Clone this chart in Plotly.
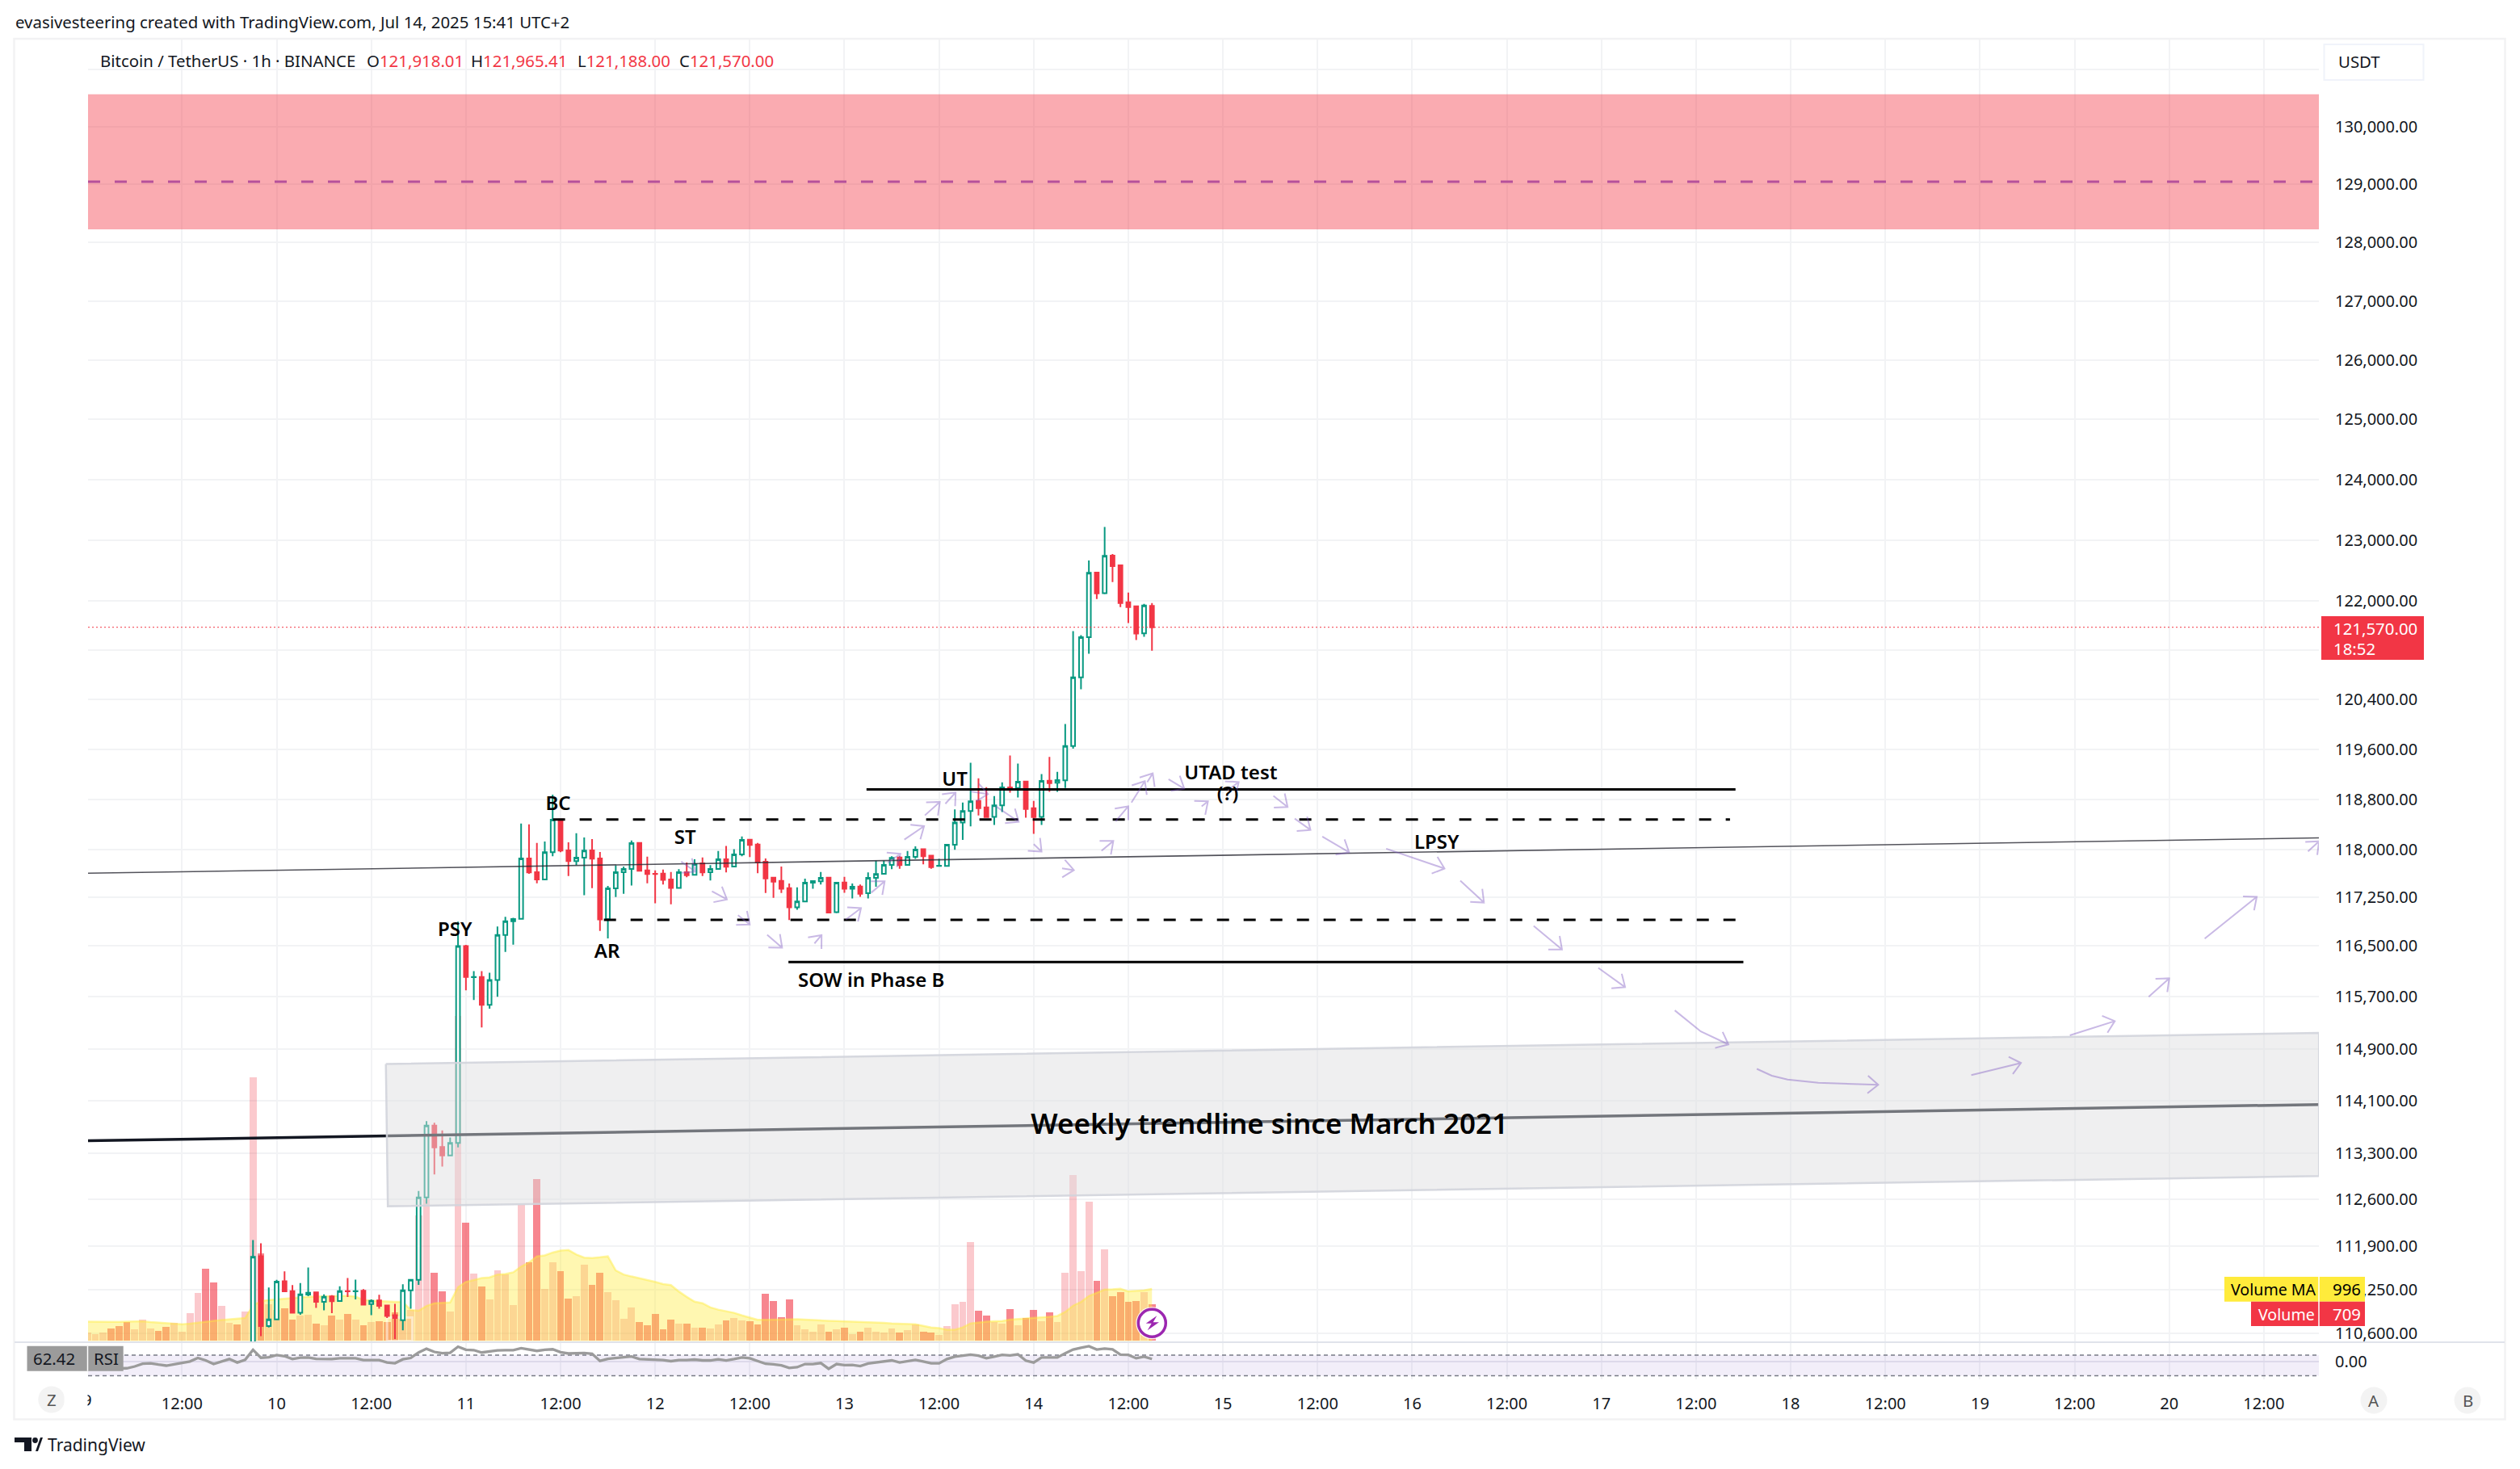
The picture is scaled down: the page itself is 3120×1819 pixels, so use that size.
import numpy as np
import pandas as pd
import plotly.graph_objects as go

# -- window / pane geometry (pixels of the 3120x1819 screenshot)
W, H = 3120, 1819
L, R, T, B = 109, 2871, 47, 1708
PANE_SPLIT = 1662
PX_PER_HOUR = 9.763
PX_PER_LOG = 9245

FONT = "Noto Sans"
INK = "#131722"
RED = "#F23645"
GREEN = "#089981"
GRID = "#F2F3F5"

START = pd.Timestamp("2025-07-09 00:00")
X_RANGE = (0.08, 282.98)
PRICE_RANGE = (110471, 131552)

# -- candles, one per hour from Jul 9 21:00 to Jul 14 15:00
candle_open = [110300, 111751, 110709, 110809, 111378, 111230, 110909, 111178, 111210, 111070, 111150, 111082, 111230, 111226, 111234, 111037, 111090, 111017, 110873, 110797, 111242, 111398, 112634, 113724, 113396, 113270, 113460,
               116488, 116005, 116009, 115576, 115960, 116662, 116876, 116916, 117864, 117647, 117533, 117962, 118480, 117992, 117822, 117877, 117992, 117864, 116908, 117392, 117647, 117698, 118111, 117677, 117622, 117626, 117533, 117401, 117647, 117605, 117788, 117647, 117698, 117851, 117737, 117928, 118162, 118085, 117813, 117562, 117511, 117397, 117095, 117188, 117482, 117503, 117562, 117018, 117486, 117388, 117422, 117316, 117558, 117622, 117762, 117881, 117762, 117890, 118009, 117907, 117745, 117745, 118081,
               118432, 118616, 118774, 118672, 118522, 118706, 118990, 118980, 119085, 118659, 118522, 119098, 119064, 119102, 119652, 120756, 121410, 122465, 122127, 122741, 122583, 121978, 121913, 121472, 121918.01]
candle_high = [111992, 111944, 111282, 111398, 111523, 111318, 111350, 111583, 111222, 111182, 111170, 111302, 111426, 111402, 111258, 111106, 111174, 111017, 111041, 111330, 111398, 112730, 113790, 113767, 113650, 113540, 116872,
               116507, 116099, 116099, 116074, 116796, 116946, 116931, 118417, 118404, 118111, 118132, 118876, 118480, 118119, 118264, 118196, 118170, 117966, 117431, 117754, 117737, 118149, 118111, 117894, 117677, 117690, 117652, 117694, 117800, 117851, 117881, 117758, 117983, 118060, 118009, 118213, 118162, 118111, 117864, 117575, 117737, 117469, 117409, 117545, 117516, 117652, 117562, 117490, 117575, 117469, 117452, 117643, 117830, 117830, 117898, 117898, 117983, 118055, 118009, 117907, 117856, 118094, 118642,
               118749, 119383, 119137, 118994, 118851, 119072, 119500, 119370, 119085, 118774, 119202, 119478, 119240, 120006, 121506, 121441, 122662, 122465, 123215, 122768, 122583, 122136, 121913, 121952, 121965.41]
candle_low = [109900, 110560, 110688, 110801, 111222, 110909, 110877, 111154, 110981, 110945, 110901, 111082, 111142, 111106, 111017, 110873, 110969, 110829, 110520, 110648, 110969, 111322, 112540, 112980, 113100, 113262, 113390,
              115800, 115651, 115228, 115516, 115701, 116398, 116512, 116916, 117622, 117473, 117533, 117898, 117962, 117588, 117758, 117286, 117397, 116725, 116610, 117256, 117307, 117439, 117669, 117473, 117159, 117452, 117142, 117401, 117567, 117605, 117588, 117516, 117686, 117643, 117737, 117898, 117885, 117630, 117320, 117244, 117320, 116895, 117057, 117188, 117388, 117452, 117014, 117005, 117324, 117235, 117261, 117235, 117418, 117622, 117694, 117703, 117762, 117856, 117771, 117703, 117745, 117745, 118000,
              118158, 118372, 118543, 118518, 118393, 118599, 118907, 118830, 118509, 118252, 118393, 118920, 118920, 118980, 119609, 120565, 121139, 122031, 122110, 122307, 121900, 121637, 121362, 121415, 121188.00]
candle_close = [111743, 110709, 110809, 111370, 111226, 110909, 111182, 111206, 111070, 111146, 111078, 111230, 111226, 111230, 111029, 111086, 111009, 110861, 110829, 111242, 111398, 112634, 113724, 113392, 113270, 113460, 116488,
                116009, 116009, 115576, 115960, 116662, 116876, 116911, 117864, 117643, 117533, 117962, 118476, 117987, 117822, 117877, 117987, 117860, 116904, 117392, 117647, 117698, 118106, 117669, 117618, 117618, 117528, 117401, 117647, 117601, 117775, 117643, 117698, 117851, 117732, 117928, 118157, 118077, 117800, 117550, 117499, 117388, 117095, 117188, 117482, 117507, 117558, 117014, 117482, 117388, 117418, 117307, 117558, 117618, 117762, 117873, 117758, 117890, 118004, 117898, 117728, 117749, 118081, 118434,
                118616, 118770, 118659, 118518, 118706, 118990, 118980, 119081, 118646, 118518, 119094, 119059, 119107, 119652, 120756, 121410, 122461, 122123, 122737, 122570, 121965, 121900, 121467, 121926, 121570.00]

# -- volume pane, one per hour from Jul 9 00:00
volume = [155, 129, 155, 232, 278, 355, 216, 402, 232, 185, 263, 340, 170, 525, 911, 1390, 1112, 664, 340, 309, 556, 5052, 1669, 695, 587, 618, 402, 479, 494, 324, 294, 479, 402, 510, 402, 294, 355, 371, 355, 541, 402, 587, 2410, 2719, 1298, 942, 556, 6220, 2261, 1283, 1039, 794, 1344, 1271, 684, 2603, 1503, 3092, 990, 1503, 1332, 807, 849, 1454, 1069, 1301, 929, 776, 422, 635, 354, 293, 513, 220, 403, 324, 324, 250, 250, 232, 312, 391, 440, 391, 373, 312, 898, 758, 452, 788, 294, 216, 170, 309, 170, 216, 247, 124, 170, 247, 170, 154, 232, 154, 201, 309, 170, 154, 108, 278, 695, 742, 1900, 572, 479, 355, 324, 603, 294, 433, 587, 371, 541, 355, 1298, 3183, 1329, 2673, 1143, 1761, 850, 927, 742, 757, 927, 709]
volume_down = [0, 0, 0, 1, 1, 1, 0, 0, 0, 1, 1, 0, 0, 0, 0, 1, 1, 0, 0, 1, 0, 0, 1, 0, 0, 1, 1, 0, 0, 1, 0, 1, 0, 1, 0, 1, 0, 1, 1, 1, 0, 0, 0, 0, 1, 1, 0, 0, 1, 0, 1, 0, 0, 0, 0, 0, 1, 1, 0, 0, 1, 1, 0, 0, 1, 1, 0, 0, 0, 0, 1, 1, 1, 1, 1, 0, 1, 0, 1, 0, 0, 1, 0, 0, 1, 1, 1, 1, 1, 1, 0, 0, 0, 0, 1, 0, 1, 0, 1, 0, 0, 0, 0, 1, 0, 0, 1, 1, 0, 0, 0, 0, 0, 1, 1, 0, 0, 1, 0, 1, 1, 0, 1, 0, 0, 0, 0, 0, 1, 0, 1, 1, 1, 1, 0, 1]
volume_ma = [371, 366, 366, 366, 366, 371, 376, 376, 360, 350, 345, 335, 319, 330, 345, 360, 386, 402, 412, 422, 438, 680, 762, 783, 798, 809, 824, 834, 845, 850, 855, 860, 865, 865, 850, 783, 772, 762, 752, 747, 747, 592, 577, 669, 721, 731, 736, 1030, 1130, 1167, 1204, 1216, 1271, 1283, 1314, 1424, 1503, 1619, 1637, 1693, 1729, 1741, 1656, 1595, 1589, 1601, 1619, 1350, 1271, 1234, 1204, 1167, 1130, 1088, 1069, 947, 843, 752, 721, 642, 599, 568, 538, 489, 446, 403, 403, 409, 409, 415, 417, 407, 397, 397, 386, 381, 376, 371, 371, 366, 355, 345, 335, 330, 324, 319, 288, 258, 247, 216, 216, 258, 335, 355, 371, 376, 381, 407, 417, 433, 443, 453, 464, 479, 556, 675, 747, 860, 917, 984, 989, 999, 948, 953, 968, 996]

# -- RSI pane, same hours
rsi = [43, 43, 43, 44, 44, 44.4, 47.9, 53.1, 54.1, 51.5, 49.5, 52.1, 54.6, 57.7, 64.4, 59.7, 52.6, 57.2, 62.3, 55.6, 60.8, 80.3, 64.9, 65.9, 70, 67.9, 62.3, 64.9, 65.4, 62.8, 62.3, 62.3, 63.8, 63.8, 63.8, 60.3, 60.8, 60.3, 55.6, 54.1, 61.8, 64.4, 75.1, 82.3, 76.2, 73.6, 74.6, 86.4, 80.3, 79.7, 75.1, 77.2, 79.2, 79.7, 79.7, 83.3, 80.3, 78.2, 80.3, 81.3, 75.6, 73.1, 73.6, 74.1, 72.6, 58.7, 62.8, 64.4, 64.9, 67.4, 62.3, 61.8, 61.8, 60.3, 58.2, 60.3, 60.3, 61.3, 59.7, 59.7, 61.8, 59.7, 62.3, 65.4, 63.8, 58.2, 53.1, 52.1, 50, 44.9, 46.4, 52.6, 52.6, 54.6, 43.3, 52.6, 50.5, 51, 48.5, 53.6, 55.6, 58.2, 59.7, 55.6, 58.2, 60.8, 57.7, 54.1, 54.1, 62.3, 66.9, 69, 71, 69, 63.8, 66.9, 70.5, 69.5, 71.5, 59.2, 55.6, 65.4, 65.4, 65.4, 73.6, 80.8, 84.4, 87.4, 80.8, 82.8, 81.3, 71, 70.5, 63.8, 66.9, 62.42]
RSI_UPPER, RSI_LOWER = 70, 30
RSI_RANGE = (22.8, 93.5)
rsi_tick = 58

# -- axis ticks
price_ticks = [131000, 130000, 129000, 128000, 127000, 126000, 125000, 124000, 123000, 122000, 121200, 120400, 119600, 118800, 118000, 117250, 116500, 115700, 114900, 114100, 113300, 112600, 111900, 111250, 110600]
hidden_price_ticks = [131000, 121200]
day_labels = list(range(10, 21))

# -- drawings on the chart: hours since START, price
zone_top, zone_bottom, zone_mid = 130564, 128222, 129043
last_price = 121570
trend_thin = ([0.08, 283], [117631, 118189])
trend_weekly = ([0.08, 283], [113491, 114044])
gray_box = ([37.85, 283, 283, 38.1, 37.85], [114663, 115143, 112957, 112501, 114663])
solid_levels = [(98.8, 209, 118958), (88.9, 210, 116240)]
dashed_levels = [(59.04, 208.3, 118482), (65.5, 209, 116900)]

label_text = ["PSY", "BC", "ST", "AR", "UT", "UTAD test", "(?)", "LPSY", "SOW in Phase B"]
label_hour = [46.6, 59.7, 75.8, 65.9, 110, 145, 144.6, 171.1, 99.4]
label_price = [116719, 118706, 118168, 116379, 119091, 119194, 118860, 118091, 115925]
weekly_text = "Weekly trendline since March 2021"
weekly_hour, weekly_price = 149.9, 113700

# each arrow is a list of (hour, price), the head goes on the last point
arrows = [
    [(75.3, 117814), (77.1, 117657)], [(79.2, 117347), (81.1, 117219)], [(82.5, 116972), (84.0, 116827)],
    [(86.2, 116665), (88.1, 116464)], [(92.2, 116530), (93.1, 116660)], [(96.2, 116905), (98.1, 117083)],
    [(99.4, 117325), (101.1, 117503)], [(101.5, 117797), (103.1, 117937)], [(103.6, 118163), (106.1, 118375)],
    [(106.2, 118546), (108.1, 118760)], [(108.8, 118730), (110.1, 118910)], [(112, 118925), (114.2, 118885)],
    [(115.2, 118690), (118.1, 118445)], [(120, 118090), (121, 117972)], [(123.6, 117708), (125.1, 117680)],
    [(128.6, 117985), (130.1, 118140)], [(130.4, 118452), (132, 118690)], [(132.4, 118750), (134.1, 119090)],
    [(134.4, 119075), (135.1, 119215)], [(137.1, 119120), (139.1, 118970)], [(141.3, 118690), (142.1, 118770)],
    [(144.6, 118945), (146, 119075)], [(150.4, 118855), (152.2, 118680)], [(153.1, 118495), (155.1, 118315)],
    [(156.6, 118210), (160, 117960)], [(164.7, 118018), (172.1, 117705)], [(174.1, 117515), (177.1, 117170)],
    [(183.4, 116805), (187, 116435)], [(191.6, 116150), (195, 115850)],
    [(201.3, 115490), (204.6, 115165), (208.1, 114965)],
    [(211.7, 114590), (213.6, 114485), (215.6, 114425), (219.5, 114375), (227.1, 114345)],
    [(238.9, 114495), (245.2, 114680)], [(251.4, 115105), (257.1, 115325)], [(261.4, 115700), (264, 115985)],
    [(268.5, 116605), (275.1, 117260)], [(281.6, 117975), (283, 118135)],
]


def hour_to_time(h):
    return START + pd.to_timedelta(h, unit="h")


def arrow_xy(path):
    # shaft plus two barbs, barbs worked out in screen units so they look the same everywhere
    xs = [p[0] for p in path]
    ys = [p[1] for p in path]
    h0, p0 = path[-2]
    h1, p1 = path[-1]
    dx = (h1 - h0) * PX_PER_HOUR
    dy = np.log(p1 / p0) * PX_PER_LOG
    ang = np.arctan2(dy, dx)
    out_x, out_y = list(xs), list(ys)
    for side in (0.7, -0.7):
        bx = h1 - 17 * np.cos(ang + side) / PX_PER_HOUR
        by = p1 * np.exp(-17 * np.sin(ang + side) / PX_PER_LOG)
        out_x += [bx, h1]
        out_y += [by, p1]
    return out_x + [None], out_y + [None]


def px(x):
    return (x - L) / (R - L)


def py(y):
    return 1 - (y - T) / (B - T)


def label(x, y, text, size=20.4, color=INK, anchor="left", **kw):
    return dict(x=px(x), y=py(y), xref="paper", yref="paper", text=text, showarrow=False, xanchor=anchor, yanchor="middle",
                font=dict(family=FONT, size=size, color=color), borderpad=0, **kw)


def box(x0, y0, x1, y1, fill, line="rgba(0,0,0,0)", width=0):
    return dict(type="rect", xref="paper", yref="paper", x0=px(x0), y0=py(y0), x1=px(x1), y1=py(y1), fillcolor=fill, line=dict(color=line, width=width), layer="above")


def rule(x0, y0, x1, y1, color, width=2):
    return dict(type="line", xref="paper", yref="paper", x0=px(x0), y0=py(y0), x1=px(x1), y1=py(y1), line=dict(color=color, width=width), layer="above")


def circle(cx, cy, r, fill, line="rgba(0,0,0,0)", width=0):
    return dict(type="circle", xref="paper", yref="paper", x0=px(cx - r), y0=py(cy - r), x1=px(cx + r), y1=py(cy + r), fillcolor=fill, line=dict(color=line, width=width), layer="above")


def poly(points, fill):
    d = "M " + " L ".join(f"{px(x):.5f},{py(y):.5f}" for x, y in points) + " Z"
    return dict(type="path", xref="paper", yref="paper", path=d, fillcolor=fill, line=dict(width=0), layer="above")


bar_times = pd.date_range(START, periods=len(volume), freq="h")
candle_times = bar_times[21:21 + len(candle_open)]
x_span = [hour_to_time(0.08), hour_to_time(283)]

fig = go.Figure()

# -- volume sits on the base subplot so that price draws over it
bar_colors = ["rgba(242,54,69,0.6)" if d else "rgba(242,54,69,0.27)" for d in volume_down]
fig.add_trace(go.Bar(x=bar_times, y=volume, width=3600000 * 0.9, marker=dict(color=bar_colors, line=dict(width=0)), yaxis="y"))
fig.add_trace(go.Scatter(x=bar_times, y=volume_ma, mode="lines", fill="tozeroy", fillcolor="rgba(255,235,59,0.4)",
                         line=dict(color="rgba(255,235,59,0.45)", width=2.5), yaxis="y"))
fig.add_trace(go.Scatter(x=[hour_to_time(h) for h in (38.0, 41.2, 41.2, 38.0, 38.0)], y=[0, 0, 448, 448, 0], mode="lines", fill="toself",
                         fillcolor="rgba(249,150,100,0.12)", line=dict(color="rgba(255,255,255,0.5)", width=3), yaxis="y"))

# -- price
fig.add_trace(go.Candlestick(x=candle_times, open=candle_open, high=candle_high, low=candle_low, close=candle_close, yaxis="y2",
                             whiskerwidth=0,
                             increasing=dict(line=dict(color=GREEN, width=2), fillcolor="#FFFFFF"),
                             decreasing=dict(line=dict(color=RED, width=2), fillcolor=RED)))

# -- red zone on top of the chart
fig.add_trace(go.Scatter(x=[x_span[0], x_span[1], x_span[1], x_span[0], x_span[0]], y=[zone_top, zone_top, zone_bottom, zone_bottom, zone_top],
                         mode="lines", fill="toself", fillcolor="rgba(242,54,69,0.42)", line=dict(width=0), yaxis="y2"))
fig.add_trace(go.Scatter(x=x_span, y=[zone_mid, zone_mid], mode="lines", line=dict(color="#B5519B", width=3, dash="15px,18px"), yaxis="y2"))
fig.add_trace(go.Scatter(x=x_span, y=[last_price, last_price], mode="lines", line=dict(color=RED, width=1, dash="2px,3px"), yaxis="y2"))

# -- weekly trendline then the gray box that washes it out
fig.add_trace(go.Scatter(x=[hour_to_time(h) for h in trend_weekly[0]], y=trend_weekly[1], mode="lines", line=dict(color="#131722", width=3.5), yaxis="y2"))
fig.add_trace(go.Scatter(x=[hour_to_time(h) for h in gray_box[0]], y=gray_box[1], mode="lines", fill="toself", fillcolor="rgba(222,222,224,0.48)",
                         line=dict(color="rgba(209,212,220,0.9)", width=2.5), yaxis="y2"))
fig.add_trace(go.Scatter(x=[hour_to_time(h) for h in trend_thin[0]], y=trend_thin[1], mode="lines", line=dict(color="rgba(40,40,50,0.8)", width=1.6), yaxis="y2"))

for h0, h1, price in solid_levels:
    fig.add_trace(go.Scatter(x=[hour_to_time(h0), hour_to_time(h1)], y=[price, price], mode="lines", line=dict(color="#000000", width=3), yaxis="y2"))
for h0, h1, price in dashed_levels:
    fig.add_trace(go.Scatter(x=[hour_to_time(h0), hour_to_time(h1)], y=[price, price], mode="lines", line=dict(color="#000000", width=3, dash="15px,18px"), yaxis="y2"))

# -- hand drawn purple arrows
arrow_x, arrow_y = [], []
for path in arrows:
    ax, ay = arrow_xy(path)
    arrow_x += [None if a is None else hour_to_time(a) for a in ax]
    arrow_y += ay
fig.add_trace(go.Scatter(x=arrow_x, y=arrow_y, mode="lines", line=dict(color="rgba(126,87,194,0.42)", width=2), yaxis="y2"))

fig.add_trace(go.Scatter(x=[hour_to_time(h) for h in label_hour], y=label_price, mode="text", text=label_text, textposition="middle center",
                         textfont=dict(family=FONT, size=24, color="#000000", weight=600), yaxis="y2"))
fig.add_trace(go.Scatter(x=[hour_to_time(weekly_hour)], y=[weekly_price], mode="text", text=[weekly_text], textposition="middle center",
                         textfont=dict(family=FONT, size=35, color="#000000", weight=600), yaxis="y2"))

# -- RSI pane
fig.add_trace(go.Scatter(x=[x_span[0], x_span[1], x_span[1], x_span[0], x_span[0]], y=[RSI_UPPER, RSI_UPPER, RSI_LOWER, RSI_LOWER, RSI_UPPER],
                         mode="lines", fill="toself", fillcolor="rgba(126,87,194,0.1)", line=dict(width=0), yaxis="y3"))
for level in (RSI_UPPER, RSI_LOWER):
    fig.add_trace(go.Scatter(x=x_span, y=[level, level], mode="lines", line=dict(color="#787B86", width=1.5, dash="5px,4px"), yaxis="y3"))
fig.add_trace(go.Scatter(x=bar_times, y=rsi, mode="lines", line=dict(color="#9B9B9B", width=3.3), yaxis="y3"))

# -- time axis labels
tick_vals, tick_text = [START + pd.Timedelta(hours=12)], ["12:00"]
for day in day_labels:
    midnight = pd.Timestamp(2025, 7, day)
    tick_vals += [midnight, midnight + pd.Timedelta(hours=12)]
    tick_text += [str(day), "12:00"]

price_text = ["" if p in hidden_price_ticks else f"{p:,.2f}" for p in price_ticks]

# -- screenshot chrome
shapes = [
    box(17.5, 48, 3101.5, 1757.5, "rgba(0,0,0,0)", "#F2F2F3", 2.5),
    rule(18, PANE_SPLIT, 3101, PANE_SPLIT, "#E0E3EB", 2),
    box(2877.5, 55, 3000.5, 99, "#FFFFFF", "#F0F3FA", 2),
    box(2874, 763, 3001, 817, RED),
    box(2754, 1581, 2928, 1611.7, "#FFEB3B"),
    box(2787, 1611.7, 2928, 1642, RED),
    rule(2871, 1581, 2871, 1642, "#FFFFFF", 1.5),
    box(33.5, 1666.7, 152.7, 1697.7, "#9B9B9B"),
    rule(108.5, 1666.7, 108.5, 1697.7, "#FFFFFF", 1.5),
    circle(63.8, 1733, 16.5, "#F3F3F3"),
    circle(2939, 1734, 16.5, "#F3F3F3"),
    circle(3055, 1734, 16.5, "#F3F3F3"),
    circle(1426.3, 1638.3, 20, "rgba(255,255,255,0.85)"),
    circle(1426.3, 1638.3, 17, "#FFFFFF", "#9C27B0", 3.5),
    poly([(1432.3, 1629.3), (1418.7, 1638.7), (1425.7, 1638.7), (1420.7, 1647.3), (1435, 1637.3), (1427.7, 1637.3)], "#9C27B0"),
    # logo
    poly([(18, 1780), (39, 1780), (39, 1797), (30, 1797), (30, 1786), (18, 1786)], "#131722"),
    circle(43.5, 1783.5, 3.4, "#131722"),
    poly([(44, 1797), (47, 1797), (53, 1780), (50, 1780)], "#131722"),
]

ohlc = [(452.6, "O", 121918.01), (582, "H", 121965.41), (713.7, "L", 121188.00), (840, "C", 121570.00)]
annotations = [
    label(18, 27, "evasivesteering created with TradingView.com, Jul 14, 2025 15:41 UTC+2"),
    label(123, 75, "Bitcoin / TetherUS · 1h · BINANCE"),
    label(2894, 76, "USDT"),
    label(2888, 778, f"{last_price:,.2f}", color="#FFFFFF"),
    label(2888, 803, "18:52", color="#FFFFFF"),
    label(2761, 1596, "Volume MA", size=19.6, color="#000000"),
    label(2887, 1596, "996", color="#000000"),
    label(2795, 1627, "Volume", size=19.6, color="#FFFFFF"),
    label(2887, 1627, "709", color="#FFFFFF"),
    label(67, 1682, "62.42", anchor="center"),
    label(131, 1682, "RSI", anchor="center"),
    label(63.8, 1733, "Z", color="#555555", anchor="center"),
    label(2939, 1734, "A", color="#555555", anchor="center"),
    label(3055, 1734, "B", color="#555555", anchor="center"),
    label(108, 1733, "9", anchor="center"),
    label(109, 1733, "&nbsp;", anchor="right", bgcolor="#FFFFFF", width=28, height=30),
    label(58, 1789, "TradingView", size=21),
]
for x, name, val in ohlc:
    annotations.append(label(x, 75, f"{name}<span style='color:{RED}'>{val:,.2f}</span>"))

fig.update_layout(
    width=W, height=H, margin=dict(l=L, r=W - R, t=T, b=H - B, pad=0),
    paper_bgcolor="#FFFFFF", plot_bgcolor="#FFFFFF", showlegend=False, bargap=0,
    font=dict(family=FONT, size=20, color=INK),
    shapes=shapes, annotations=annotations,
    xaxis=dict(type="date", range=[hour_to_time(X_RANGE[0]), hour_to_time(X_RANGE[1])], anchor="y3", tickmode="array", tickvals=tick_vals, ticktext=tick_text,
               showgrid=True, gridcolor=GRID, gridwidth=1.5, ticks="outside", ticklen=12, tickcolor="rgba(0,0,0,0)", zeroline=False, showline=False,
               rangeslider=dict(visible=False), tickangle=0, tickfont=dict(family=FONT, size=20, color=INK)),
    yaxis=dict(domain=[(B - PANE_SPLIT) / (B - T), 1], range=[-25, 24950], visible=False, showgrid=False, zeroline=False),
    yaxis2=dict(type="log", overlaying="y", side="right", anchor="x", range=[np.log10(PRICE_RANGE[0]), np.log10(PRICE_RANGE[1])], tickmode="array",
                tickvals=price_ticks, ticktext=price_text, showgrid=True, gridcolor=GRID, gridwidth=1.5, ticks="outside", ticklen=15, tickcolor="rgba(0,0,0,0)",
                zeroline=False, showline=False, tickfont=dict(family=FONT, size=20, color=INK)),
    yaxis3=dict(domain=[0, (B - PANE_SPLIT - 1) / (B - T)], side="right", anchor="x", range=list(RSI_RANGE), tickmode="array", tickvals=[rsi_tick], ticktext=["0.00"],
                showgrid=True, gridcolor="#E8E8EF", gridwidth=1.5, ticks="outside", ticklen=15, tickcolor="rgba(0,0,0,0)", zeroline=False, showline=False,
                tickfont=dict(family=FONT, size=20, color=INK)),
)

fig.write_html("out.html", config=dict(displayModeBar=False), post_script="document.body.style.margin='0';document.body.style.overflow='hidden';")
